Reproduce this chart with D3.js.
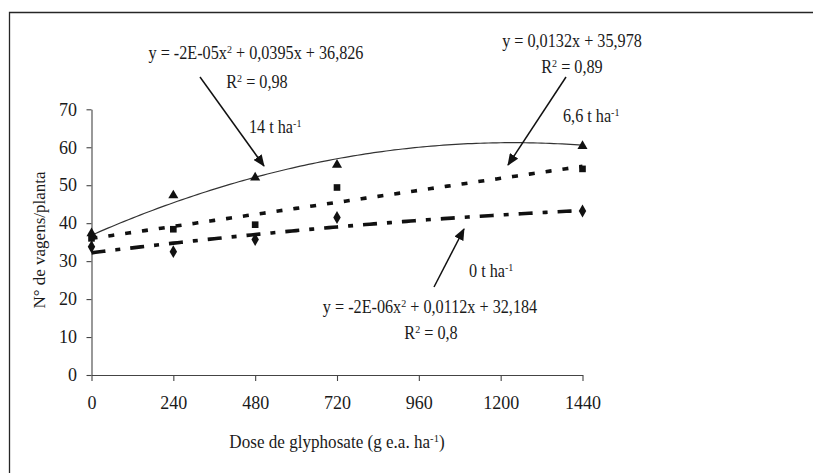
<!DOCTYPE html>
<html>
<head>
<meta charset="utf-8">
<script src="https://cdn.jsdelivr.net/npm/d3@7"></script>
<style>
  body { margin: 0; background: #fff; }
  svg { display: block; }
</style>
</head>
<body>
<svg id="chart" width="813" height="473"></svg>
<script>
// Glyphosate dose (g e.a. ha-1)
const doses = [0, 240, 480, 720, 1440];
// Pods per plant for each straw amount
const pods14 = [37.3, 47.3, 52.0, 55.4, 60.3];
const pods66 = [36.0, 38.4, 39.6, 49.4, 54.3];
const pods0  = [33.8, 32.5, 35.7, 41.5, 43.2];
// Regression coefficients [a, b, c] for y = a x^2 + b x + c
const fit14 = [-1.6e-5, 0.0395, 36.826];
const fit66 = [0, 0.0132, 35.978];
const fit0  = [-2.4e-6, 0.0112, 32.184];
// Axis ticks
const xTicks = [0, 240, 480, 720, 960, 1200, 1440];
const yTicks = [0, 10, 20, 30, 40, 50, 60, 70];

const FONT = '"Liberation Serif", "Times New Roman", serif';
const INK = "#1a1a1a";

const svg = d3.select("#chart");
const W = 813, H = 473;

// outer frame (left and top edges)
svg.append("path")
  .attr("d", `M9.5,${H} L9.5,12.5 L${W},12.5`)
  .attr("fill", "none").attr("stroke", "#262626").attr("stroke-width", 1.3);

const x = d3.scaleLinear().domain([0, 1440]).range([91.5, 582.5]);
const y = d3.scaleLinear().domain([0, 70]).range([375, 109.3]);

// axes
const xAxis = svg.append("g").attr("transform", `translate(0,${y(0)})`)
  .call(d3.axisBottom(x).tickValues(xTicks).tickFormat(d3.format("d"))
    .tickSize(6).tickSizeOuter(0).tickPadding(15.5));
const yAxis = svg.append("g").attr("transform", `translate(${x(0)},0)`)
  .call(d3.axisLeft(y).tickValues(yTicks).tickFormat(d3.format("d"))
    .tickSize(5).tickSizeOuter(0).tickPadding(9.5));
[xAxis, yAxis].forEach(g => {
  g.attr("font-family", null).attr("font-size", null);
  g.selectAll("path.domain").attr("stroke", "#444").attr("stroke-width", 1.1);
  g.selectAll(".tick line").attr("stroke", "#444").attr("stroke-width", 1.1);
  g.selectAll(".tick text")
    .style("font-family", FONT)
    .style("font-size", "18px").attr("fill", INK);
});

// trend lines
const poly = c => v => c[0] * v * v + c[1] * v + c[2];
const samples = d3.range(0, 1440 + 1, 12);
const lineGen = f => d3.line().x(v => x(v)).y(v => y(f(v)))(samples);

svg.append("path").attr("d", lineGen(poly(fit14)))
  .attr("fill", "none").attr("stroke", "#333").attr("stroke-width", 1.2);
svg.append("path").attr("d", lineGen(poly(fit66)))
  .attr("fill", "none").attr("stroke", "#111").attr("stroke-width", 3.6)
  .attr("stroke-dasharray", "6,11");
svg.append("path").attr("d", lineGen(poly(fit0)))
  .attr("fill", "none").attr("stroke", "#111").attr("stroke-width", 3.6)
  .attr("stroke-dasharray", "14,10,5,10");

// markers
const markerGroup = (vals, type, size) => {
  svg.append("g").selectAll("path").data(doses.map((d, i) => [d, vals[i]]))
    .join("path")
    .attr("transform", d => `translate(${x(d[0])},${y(d[1])})`)
    .attr("d", d3.symbol().type(type).size(size))
    .attr("fill", "#111");
};
markerGroup(pods0, d3.symbolDiamond, 48);
markerGroup(pods66, d3.symbolSquare, 44);
markerGroup(pods14, d3.symbolTriangle, 44);

// annotation text with superscripts; parts: [string, isSuperscript]
function label(cx, by, parts, anchor = "middle", size = 18, sx = 0.9) {
  const t = svg.append("text")
    .attr("transform", `translate(${cx},${by}) scale(${sx},1)`)
    .attr("text-anchor", anchor)
    .attr("fill", INK)
    .style("font-family", FONT)
    .style("font-size", size + "px");
  parts.forEach(([s, sup]) => {
    t.append("tspan")
      .attr("baseline-shift", sup ? "55%" : null)
      .style("font-size", sup ? (size * 0.62) + "px" : null)
      .text(s);
  });
  return t;
}

label(256, 59, [["y = -2E-05x", 0], ["2", 1], [" + 0,0395x + 36,826", 0]]);
label(257, 88, [["R", 0], ["2", 1], [" = 0,98", 0]]);
label(249, 133, [["14 t ha", 0], ["-1", 1]], "start");

label(572, 47, [["y = 0,0132x + 35,978", 0]]);
label(572, 73, [["R", 0], ["2", 1], [" = 0,89", 0]]);
label(563, 122, [["6,6 t ha", 0], ["-1", 1]], "start");

label(469, 277, [["0 t ha", 0], ["-1", 1]], "start");
label(430, 313, [["y = -2E-06x", 0], ["2", 1], [" + 0,0112x + 32,184", 0]]);
label(431, 339, [["R", 0], ["2", 1], [" = 0,8", 0]]);

// arrows pointing from the equations to their curves
svg.append("defs").append("marker")
  .attr("id", "head").attr("markerUnits", "userSpaceOnUse")
  .attr("markerWidth", 12).attr("markerHeight", 10)
  .attr("refX", 11).attr("refY", 5).attr("orient", "auto")
  .append("path").attr("d", "M0,0 L12,5 L0,10 Z").attr("fill", "#111");
const arrows = [
  [[200, 77], [264, 166]],
  [[566, 77], [508, 165]],
  [[434, 287], [464, 229]]
];
svg.append("g").selectAll("line").data(arrows).join("line")
  .attr("x1", d => d[0][0]).attr("y1", d => d[0][1])
  .attr("x2", d => d[1][0]).attr("y2", d => d[1][1])
  .attr("stroke", "#111").attr("stroke-width", 1.5)
  .attr("marker-end", "url(#head)");

// axis titles
label(337, 448, [["Dose de glyphosate (g e.a. ha", 0], ["-1", 1], [")", 0]], "middle", 18, 0.95);
svg.append("text")
  .attr("transform", "translate(45,240) rotate(-90)")
  .attr("text-anchor", "middle")
  .attr("fill", INK)
  .style("font-family", FONT)
  .style("font-size", "17px")
  .text("N° de vagens/planta");
</script>
</body>
</html>
